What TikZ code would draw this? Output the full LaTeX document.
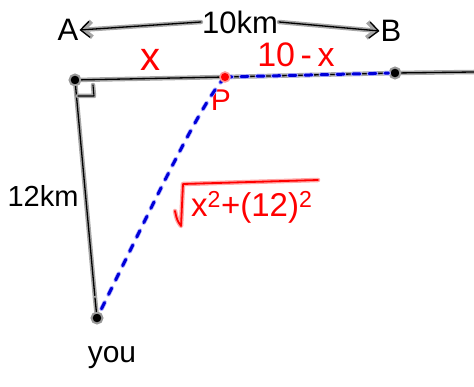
\documentclass[tikz,border=0pt]{standalone}
\usepackage{fontspec}
\setmainfont{Liberation Sans}
\usetikzlibrary{arrows.meta}
\begin{document}
\begin{tikzpicture}[x=1pt,y=-1pt,
  ink/.style={draw=black,line width=1.3pt,line cap=round,line join=round,preaction={draw=black!35,line width=4.5pt,line cap=round,line join=round}},
  redink/.style={draw=red,line width=1.8pt,line cap=round,line join=round,preaction={draw=red!35,line width=4.5pt,line cap=round,line join=round}},
  bluedash/.style={draw=blue!85!black,line width=3pt,line cap=round,dash pattern=on 7pt off 9pt,
     preaction={draw=blue!30,line width=4.5pt,line cap=round,dash pattern=on 7pt off 9pt}},
  dotnode/.style={circle,fill=black,draw=black!40,line width=2pt,inner sep=0pt,minimum size=11pt},
  pdot/.style={circle,fill=red,draw=red!40,line width=1.5pt,inner sep=0pt,minimum size=10pt},
  blk/.style={font=\fontsize{31}{31}\selectfont,text=black,inner sep=1pt},
  rtxt/.style={font=\fontsize{34}{34}\selectfont,text=red,inner sep=1pt},
  arr/.style={ink,-{Straight Barb[length=9pt,width=16pt]}}]
\useasboundingbox (0,0) rectangle (474,387);
% points
\node[dotnode] (dA) at (75,80) {};
\node[dotnode] (dB) at (395,73) {};
\coordinate (rightend) at (474,72);
\node[dotnode] (dyou) at (97,318) {};
\coordinate (vbot) at (95,298);
% labels
\node[blk] (A) at (68,30) {A};
\node[blk] (B) at (391,31) {B};
\node[blk] (dist) at (240,22) {10km};
\node[blk,font=\fontsize{29}{29}\selectfont] (h) at (43,196) {12km};
\node[blk,font=\fontsize{30}{30}\selectfont] (you) at (112,358) {you};
\node[rtxt,font=\fontsize{40}{40}\selectfont] (x) at (150,60) {x};
\node[rtxt] (rest) at (296,55) {10\,-\,x};
\node[rtxt,font=\fontsize{30}{30}\selectfont] (Pl) at (221,100) {P};
\node[rtxt,font=\fontsize{33}{33}\selectfont,anchor=west] (f) at (190,207) {x\textsuperscript{2}+(12)\textsuperscript{2}};
\draw[redink] (175,211) .. controls (177,220) .. (181,226) -- (183,184) -- (318,180);
% distance arrows
\draw[arr] (dist.west) -- (A.east);
\draw[arr] (dist.east) -- (B.west);
% top line
\draw[ink] (dA) -- (225,77) -- (dB) -- (rightend);
% vertical
\draw[ink] (dA) -- (vbot);
\draw[ink] (vbot) -- (dyou);
% right angle
\draw[ink,line width=1.1pt] (78,96) -- (94,96) -- (93,85);
% blue paths
\draw[bluedash] (225,77) .. controls (200,105) and (160,190) .. (dyou);
\draw[bluedash] (225,77) -- (dB);
\node[pdot] (P) at (225,77) {};
\end{tikzpicture}
\end{document}
